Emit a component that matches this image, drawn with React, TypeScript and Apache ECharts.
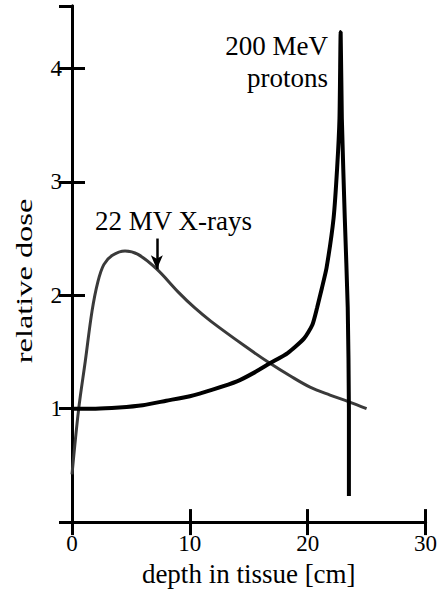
import React, { useEffect, useRef } from "react";
import * as echarts from "echarts";

// X-ray depth-dose curve (depth in cm, relative dose)
const xrayDepth = [0, 0.57, 1.13, 1.7, 2.2, 2.7, 3.4, 4.5, 5.6, 7.2, 9.0, 10.4, 11.8, 14.7, 16.8, 18.5, 20.2, 21.9, 23.5, 25.0];
const xrayDose = [0.42, 1.0, 1.42, 1.86, 2.12, 2.27, 2.35, 2.39, 2.36, 2.23, 2.03, 1.89, 1.77, 1.55, 1.4, 1.29, 1.19, 1.12, 1.06, 1.0];

// 200 MeV proton depth-dose curve
const protonDepth = [0, 2, 4, 6, 8, 10, 12, 14, 15.5, 16.8, 18.3, 19.7, 20.4, 20.8, 21.2, 21.6, 22.2, 22.5, 22.7, 22.8, 22.9, 23.15, 23.4, 23.5, 23.5];
const protonDose = [1.0, 1.0, 1.01, 1.03, 1.07, 1.11, 1.17, 1.24, 1.32, 1.4, 1.49, 1.62, 1.74, 1.89, 2.06, 2.24, 2.68, 3.12, 3.56, 4.32, 3.56, 2.68, 1.89, 1.0, 0.23];

// Arrow pointing at the X-ray curve
const arrowDepth = 7.2;
const arrowDose = [2.5, 2.23];

const xTicks = [0, 10, 20, 30];
const yTicks = [1, 2, 3, 4];

const FONT = "Liberation Serif";

export default function App() {
  const ref = useRef<HTMLDivElement>(null);
  useEffect(() => {
    if (!ref.current) return;
    const chart = echarts.init(ref.current, null, { renderer: "svg" });
    const axisLine = { show: true, lineStyle: { color: "#000", width: 3 } };
    const axisTick = { show: true, inside: true, length: 13, lineStyle: { color: "#000", width: 3 } };
    chart.setOption({
      animation: false,
      backgroundColor: "#fff",
      textStyle: { fontFamily: FONT },
      grid: { left: 72, right: 11, top: 6, bottom: 66 },
      xAxis: [
        {
          type: "value",
          position: "bottom",
          min: xTicks[0],
          max: xTicks[xTicks.length - 1],
          interval: 10,
          axisLine,
          axisTick,
          splitLine: { show: false },
          axisLabel: { margin: 10, fontSize: 23, fontFamily: FONT, color: "#000" },
          name: "depth in tissue [cm]",
          nameLocation: "middle",
          nameGap: 37,
          nameTextStyle: { fontSize: 27, fontFamily: FONT, color: "#000" },
        },
        {
          type: "value",
          position: "top",
          min: xTicks[0],
          max: xTicks[xTicks.length - 1],
          interval: 10,
          axisLine,
          axisTick,
          splitLine: { show: false },
          axisLabel: { show: false },
        },
      ],
      yAxis: [
        {
          type: "value",
          position: "left",
          min: 0,
          max: 4.55,
          interval: 1,
          axisLine,
          axisTick,
          splitLine: { show: false },
          axisLabel: {
            margin: 10,
            fontSize: 23,
            fontFamily: FONT,
            color: "#000",
            showMinLabel: false,
            showMaxLabel: false,
            formatter: (v: number) => (yTicks.includes(v) ? String(v) : ""),
          },
        },
        {
          type: "value",
          position: "right",
          min: 0,
          max: 4.55,
          interval: 1,
          axisLine,
          axisTick,
          splitLine: { show: false },
          axisLabel: { show: false },
        },
      ],
      series: [
        {
          name: "22 MV X-rays",
          type: "line",
          data: xrayDepth.map((d, i) => [d, xrayDose[i]]),
          showSymbol: false,
          smooth: 0.35,
          lineStyle: { color: "#3a3a3a", width: 3 },
          silent: true,
          markLine: {
            silent: true,
            symbol: ["none", "arrow"],
            symbolSize: [9, 14],
            label: { show: false },
            lineStyle: { color: "#000", width: 2.5, type: "solid" },
            data: [[{ coord: [arrowDepth, arrowDose[0]] }, { coord: [arrowDepth, arrowDose[1]] }]],
          },
        },
        {
          name: "200 MeV protons",
          type: "line",
          data: protonDepth.map((d, i) => [d, protonDose[i]]),
          showSymbol: false,
          smooth: 0.2,
          lineStyle: { color: "#000", width: 4 },
          silent: true,
        },
      ],
      graphic: [
        {
          type: "text",
          x: 328,
          y: 46,
          style: { text: "200 MeV", fontSize: 27, fontFamily: FONT, fill: "#000", textAlign: "right", textVerticalAlign: "middle" },
        },
        {
          type: "text",
          x: 328,
          y: 78,
          style: { text: "protons", fontSize: 27, fontFamily: FONT, fill: "#000", textAlign: "right", textVerticalAlign: "middle" },
        },
        {
          type: "text",
          x: 95,
          y: 221,
          style: { text: "22 MV X-rays", fontSize: 27, fontFamily: FONT, fill: "#000", textAlign: "left", textVerticalAlign: "middle" },
        },
        {
          type: "text",
          x: 24,
          y: 281,
          rotation: Math.PI / 2,
          scaleX: 1.35,
          style: { text: "relative dose", fontSize: 24, fontFamily: FONT, fill: "#000", textAlign: "center", textVerticalAlign: "middle" },
        },
      ],
    });
    return () => chart.dispose();
  }, []);
  return <div ref={ref} style={{ width: 440, height: 592, position: "absolute", left: 0, top: 0 }} />;
}
